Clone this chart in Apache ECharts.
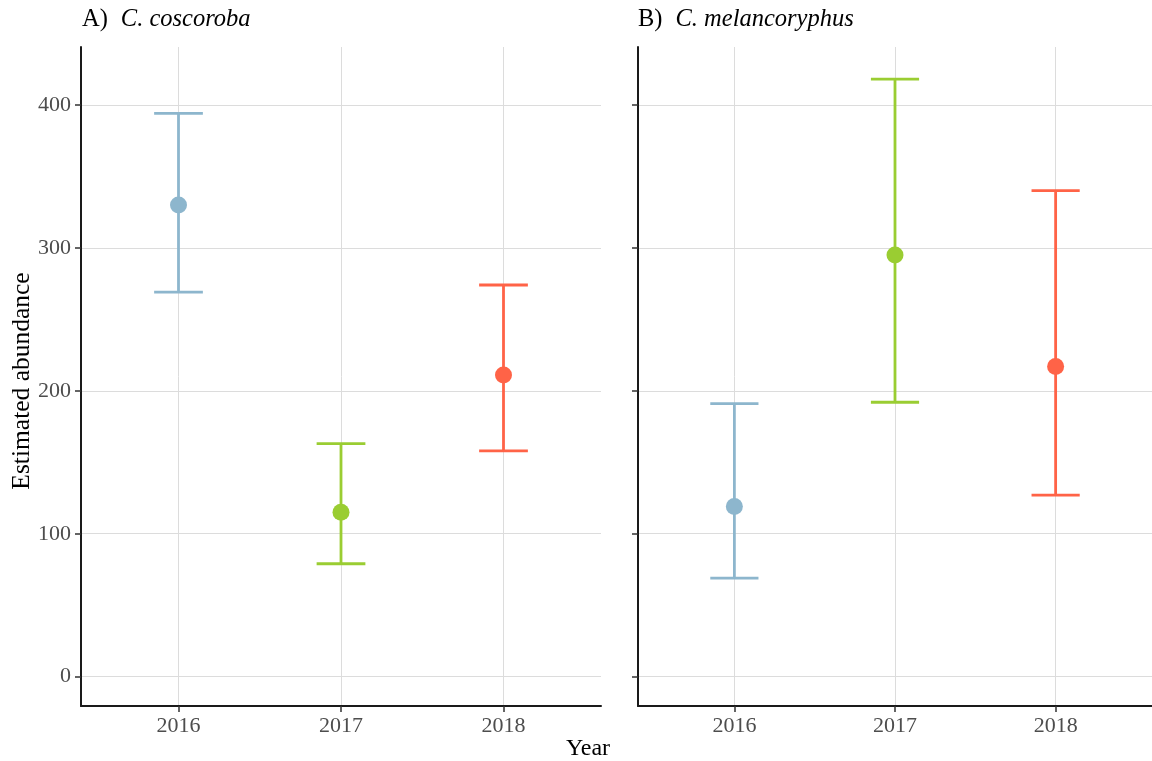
<!DOCTYPE html>
<html><head><meta charset="utf-8">
<script src="https://cdn.jsdelivr.net/npm/echarts@6/dist/echarts.min.js"></script>
<style>html,body{margin:0;padding:0;background:#fff}#c{width:1152px;height:761px}</style>
</head><body><div id="c"></div>
<script>
const years = ['2016', '2017', '2018'];
const colors = ['#8db6cd', '#9acd32', '#ff6347'];
const cocEst = [330, 115, 211];
const cocLow = [269, 79, 158];
const cocHigh = [394, 163, 274];
const melEst = [119, 295, 217];
const melLow = [69, 192, 127];
const melHigh = [191, 418, 340];
const yTicks = [0, 100, 200, 300, 400];
const xPos = [1, 2, 3];

const FONT = '"Liberation Serif", "Times New Roman", serif';

function renderErr(params, api) {
  const x = api.value(0), lo = api.value(1), hi = api.value(2);
  const pLo = api.coord([x, lo]), pHi = api.coord([x, hi]);
  const pL = api.coord([x - 0.15, lo]), pR = api.coord([x + 0.15, lo]);
  const half = (pR[0] - pL[0]) / 2;
  const style = { stroke: colors[params.dataIndex], lineWidth: 2.8 };
  return { type: 'group', children: [
    { type: 'line', shape: { x1: pLo[0], y1: pLo[1], x2: pHi[0], y2: pHi[1] }, style },
    { type: 'line', shape: { x1: pLo[0] - half, y1: pLo[1], x2: pLo[0] + half, y2: pLo[1] }, style },
    { type: 'line', shape: { x1: pHi[0] - half, y1: pHi[1], x2: pHi[0] + half, y2: pHi[1] }, style }
  ]};
}

function xAxisFor(i) {
  return {
    type: 'value', gridIndex: i, min: 0.4, max: 3.6,
    axisLine: { show: true, onZero: false, lineStyle: { color: '#1a1a1a', width: 2 } },
    axisTick: { show: true, length: 6, customValues: xPos, lineStyle: { color: '#333', width: 1.5 } },
    axisLabel: { customValues: xPos, formatter: v => years[Math.round(v) - 1], color: '#4d4d4d', fontSize: 22, fontFamily: FONT, margin: 9 },
    splitLine: { show: true, lineStyle: { color: '#dcdcdc', width: 1 } }
  };
}
function yAxisFor(i, showLabels) {
  return {
    type: 'value', gridIndex: i, min: -20.5, max: 440.5,
    axisLine: { show: true, onZero: false, lineStyle: { color: '#1a1a1a', width: 2 } },
    axisTick: { show: true, length: 6, customValues: yTicks, lineStyle: { color: '#333', width: 1.5 } },
    axisLabel: { show: showLabels, customValues: yTicks, color: '#4d4d4d', fontSize: 22, fontFamily: FONT, margin: 10 },
    splitLine: { show: true, lineStyle: { color: '#dcdcdc', width: 1 } }
  };
}

const chart = echarts.init(document.getElementById('c'), null, { renderer: 'canvas' });
chart.setOption({
  backgroundColor: '#fff',
  animation: false,
  grid: [
    { left: 81, top: 47, width: 520, height: 659 },
    { left: 638, top: 47, width: 520, height: 659 }
  ],
  xAxis: [xAxisFor(0), xAxisFor(1)],
  yAxis: [yAxisFor(0, true), yAxisFor(1, false)],
  series: [
    { type: 'custom', xAxisIndex: 0, yAxisIndex: 0, renderItem: renderErr,
      data: xPos.map((x, i) => [x, cocLow[i], cocHigh[i]]), z: 2 },
    { type: 'scatter', xAxisIndex: 0, yAxisIndex: 0, symbolSize: 17, z: 3, itemStyle: { opacity: 1 },
      data: xPos.map((x, i) => ({ value: [x, cocEst[i]], itemStyle: { color: colors[i], opacity: 1 } })) },
    { type: 'custom', xAxisIndex: 1, yAxisIndex: 1, renderItem: renderErr,
      data: xPos.map((x, i) => [x, melLow[i], melHigh[i]]), z: 2 },
    { type: 'scatter', xAxisIndex: 1, yAxisIndex: 1, symbolSize: 17, z: 3, itemStyle: { opacity: 1 },
      data: xPos.map((x, i) => ({ value: [x, melEst[i]], itemStyle: { color: colors[i], opacity: 1 } })) }
  ],
  graphic: [
    { type: 'text', x: 82, y: 20, style: { text: '{n|A)}{i|C. coscoroba}', textVerticalAlign: 'middle',
      rich: { n: { fontFamily: FONT, fontSize: 24.5, fill: '#000', padding: [0, 13, 0, 0] }, i: { fontFamily: FONT, fontSize: 24.5, fontStyle: 'italic', fill: '#000' } } } },
    { type: 'text', x: 638, y: 20, style: { text: '{n|B)}{i|C. melancoryphus}', textVerticalAlign: 'middle',
      rich: { n: { fontFamily: FONT, fontSize: 24.5, fill: '#000', padding: [0, 13, 0, 0] }, i: { fontFamily: FONT, fontSize: 24.5, fontStyle: 'italic', fill: '#000' } } } },
    { type: 'text', x: 22, y: 381, rotation: Math.PI / 2, style: { text: 'Estimated abundance', fontFamily: FONT, fontSize: 25.5, fill: '#000', textAlign: 'center', textVerticalAlign: 'middle' } },
    { type: 'text', x: 588, y: 749, style: { text: 'Year', fontFamily: FONT, fontSize: 24, fill: '#000', textAlign: 'center', textVerticalAlign: 'middle' } }
  ]
});
</script>
</body></html>
